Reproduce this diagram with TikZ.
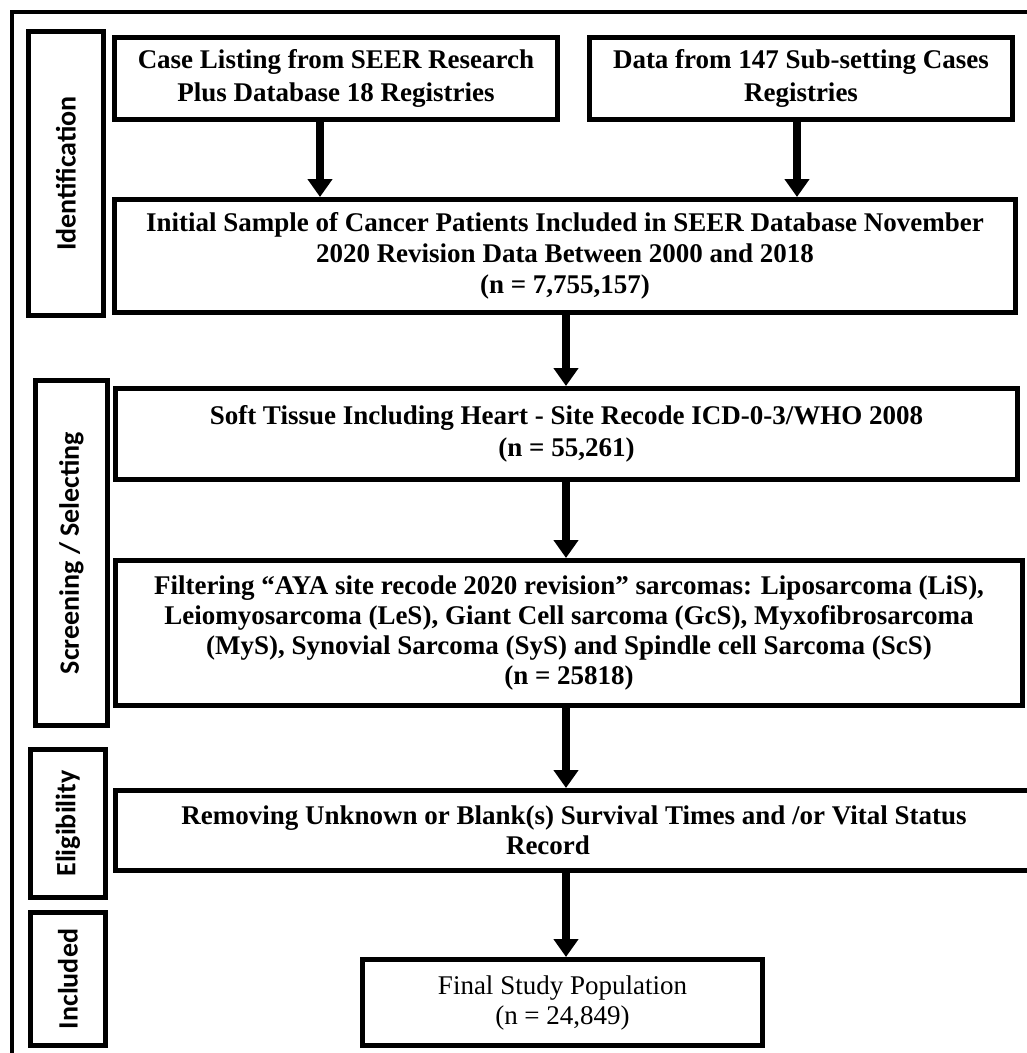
\documentclass[tikz,border=0pt]{standalone}
\usepackage{fontspec}
\setmainfont{Liberation Serif}
\newfontfamily\sidefont{Carlito}
\usetikzlibrary{arrows.meta}
\begin{document}
\begin{tikzpicture}[x=1pt,y=-1pt,
  box/.style={draw=black,line width=5pt,inner sep=0pt,align=center,
    font=\bfseries\fontsize{27}{30}\selectfont},
  sidebox/.style={draw=black,line width=5pt,inner sep=0pt},
  sidetext/.style={rotate=90,inner sep=0pt,font=\sidefont\bfseries\fontsize{28}{32}\selectfont},
  arr/.style={line width=8pt,-{Triangle[length=18pt,width=24pt]}},
  frameline/.style={line width=4pt}
]
\useasboundingbox (0,0) rectangle (1027,1053);

% outer frame (top and left edges visible)
\coordinate (fbl) at (12,1053);
\coordinate (ftl) at (12,12);
\coordinate (ftr) at (1027,12);
\draw[frameline] (fbl) -- (ftl) -- (ftr);

% side stage boxes
\node[sidebox,minimum width=75pt,minimum height=284pt] (idbox) at (66,173.5) {};
\node[sidetext] (idtext) at (idbox.center) {Identification};
\node[sidebox,minimum width=72pt,minimum height=345pt] (scrbox) at (71.5,553) {};
\node[sidetext] (scrtext) at (scrbox.center) {Screening / Selecting};
\node[sidebox,minimum width=75pt,minimum height=148pt] (elbox) at (68,823.5) {};
\node[sidetext] (eltext) at (elbox.center) {Eligibility};
\node[sidebox,minimum width=75pt,minimum height=133pt] (incbox) at (68,979) {};
\node[sidetext] (inctext) at (incbox.center) {Included};

% main flow boxes
\node[box,minimum width=443pt,minimum height=82pt,font=\bfseries\fontsize{27}{33}\selectfont] (case) at (336,78.5)
  {Case Listing from SEER Research\\Plus Database 18 Registries};
\node[box,minimum width=423pt,minimum height=82pt,font=\bfseries\fontsize{27}{33}\selectfont] (data) at (801,78.5)
  {Data from 147 Sub-setting Cases\\Registries};
\node[box,minimum width=901pt,minimum height=113pt,font=\bfseries\fontsize{27}{31}\selectfont] (init) at (565,256)
  {Initial Sample of Cancer Patients Included in SEER Database November\\
   2020 Revision Data Between 2000 and 2018\\
   (n = 7,755,157)};
\node[box,minimum width=902pt,minimum height=91pt,font=\bfseries\fontsize{27}{32}\selectfont] (soft) at (566.5,434)
  {Soft Tissue Including Heart - Site Recode ICD-0-3/WHO 2008\\
   (n = 55,261)};
\node[box,minimum width=907pt,minimum height=145pt] (filt) at (569,633)
  {Filtering “AYA site recode 2020 revision” sarcomas: Liposarcoma (LiS),\\
   Leiomyosarcoma (LeS), Giant Cell sarcoma (GcS), Myxofibrosarcoma\\
   (MyS), Synovial Sarcoma (SyS) and Spindle cell Sarcoma (ScS)\\
   (n = 25818)};
\node[box,minimum width=917pt,minimum height=80pt] (rem) at (574,830.5)
  {Removing Unknown or Blank(s) Survival Times and /or Vital Status\\
   Record\hspace*{52pt}};
\node[box,minimum width=400pt,minimum height=86pt,font=\fontsize{27}{30}\selectfont] (final) at (562.5,1002.5)
  {Final Study Population\\(n = 24,849)};

% connectors
\coordinate (axis) at (566,0);
\draw[arr] ([xshift=-16pt]case.south) -- ([xshift=-16pt]case.south |- init.north);
\draw[arr] ([xshift=-4pt]data.south) -- ([xshift=-4pt]data.south |- init.north);
\draw[arr] (init.south -| axis) -- (soft.north -| axis);
\draw[arr] (soft.south -| axis) -- (filt.north -| axis);
\draw[arr] (filt.south -| axis) -- (rem.north -| axis);
\draw[arr] (rem.south -| axis) -- (final.north -| axis);
\end{tikzpicture}
\end{document}
